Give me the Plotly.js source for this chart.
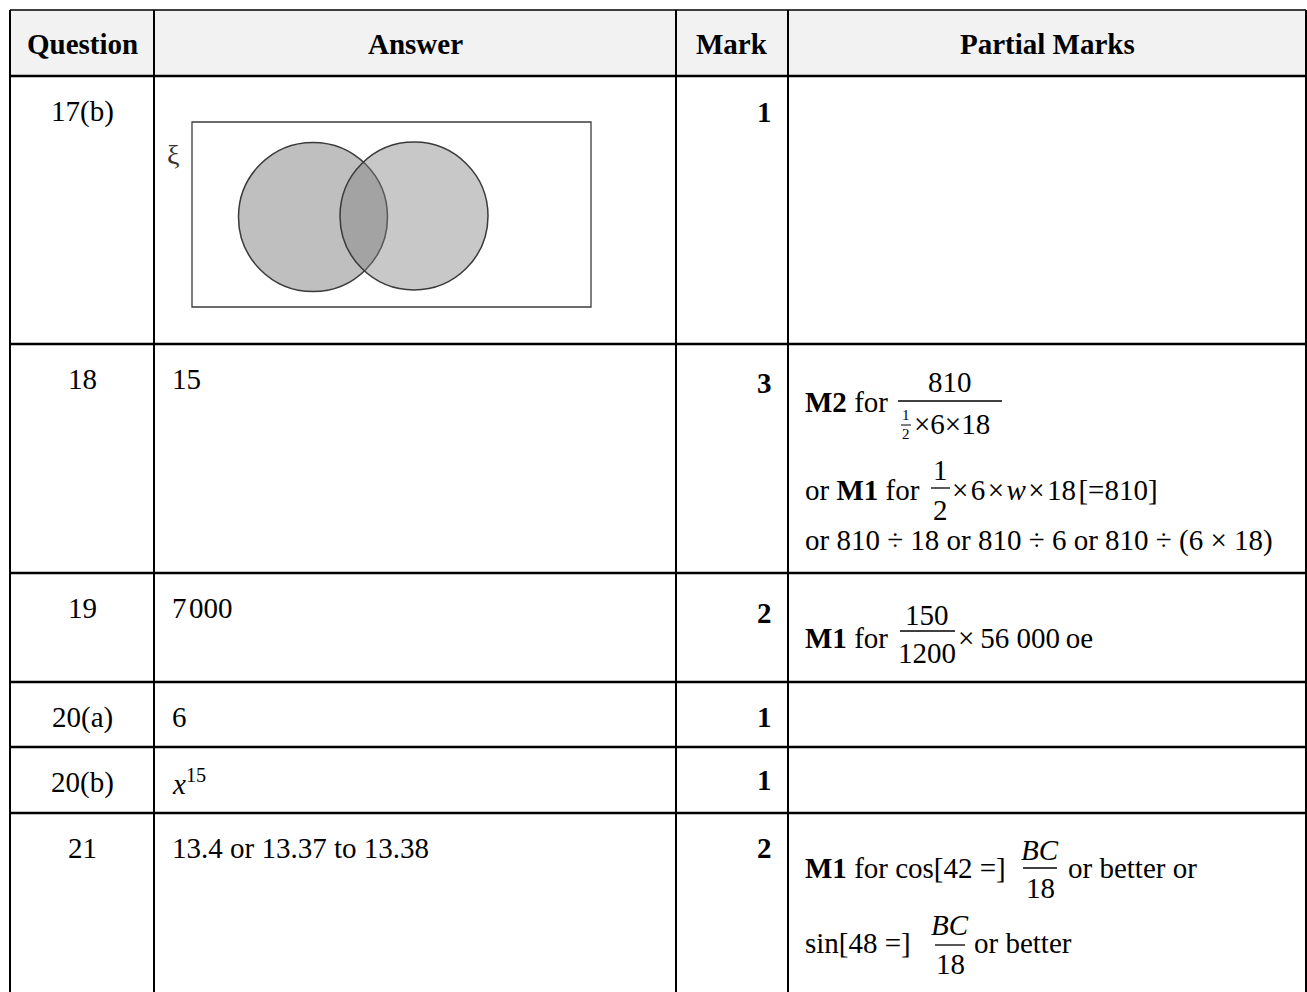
<!DOCTYPE html>
<html>
<head>
<meta charset="utf-8">
<script src="https://cdn.plot.ly/plotly-3.0.1.min.js"></script>
<style>html, body { margin: 0; padding: 0; background: #fff; }</style>
</head>
<body>
<div id="markTable" style="width:1307px;height:992px"></div>
<script>
// Mark scheme table, data
var headers = ['Question', 'Answer', 'Mark', 'Partial Marks'];
var questions = ['17(b)', '18', '19', '20(a)', '20(b)', '21'];
var answers = ['', '15', '7\u200a000', '6', '<i>x</i><sup>15</sup>', '13.4 or 13.37 to 13.38'];
var marks = [1, 3, 2, 1, 1, 2];

// partial marks text, piece by piece (fractions split into numerator / denominator)
var partial18 = ['<b>M2</b> for', '810', '1', '2', '\u00d76\u00d718',
  'or <b>M1</b> for', '1', '2', '\u00d7\u200a6\u200a\u00d7\u200a<i>w</i>\u200a\u00d7\u200a18\u200a[=810]',
  'or 810 \u00f7 18 or 810 \u00f7 6 or 810 \u00f7 (6 \u00d7 18)'];
var partial19 = ['<b>M1</b> for', '150', '1200', '\u00d7\u200956 000\u2009oe'];
var partial21 = ['<b>M1</b> for cos[42 =]', '<i>BC</i>', '18', 'or better or',
  'sin[48 =]', '<i>BC</i>', '18', 'or better'];

// Venn diagram sets (universal set ξ, two overlapping sets)
var vennSets = ['A', 'B'];
var vennFill = ['rgba(128,128,128,0.5)', 'rgba(128,128,128,0.43)'];

// ---- layout (pixels) ----
var colEdges = [10, 154, 676, 788, 1306];
var rowEdges = [10, 76, 344, 573, 682, 747, 813, 1000];
var markDy = [36, 39, 40, 35, 33, 35];
var serif = 'Liberation Serif';
var fs = 29;

// [x, y, xanchor, size]
var pos18 = [[803, 402, 'left'], [950, 382, 'center'], [906, 415, 'center', 15], [906, 434, 'center', 15],
  [912, 424, 'left'], [803, 490, 'left'], [940, 470, 'center'], [940, 510, 'center'],
  [950, 490, 'left'], [803, 540, 'left']];
var bars18 = [[898, 1002, 401], [901, 911, 425], [931, 950, 488]];
var pos19 = [[803, 638, 'left'], [927, 615, 'center'], [927, 653, 'center'], [956, 638, 'left']];
var bars19 = [[900, 955, 631]];
var pos21 = [[803, 868, 'left'], [1040, 850, 'center'], [1040, 888, 'center'], [1066, 868, 'left'],
  [803, 943, 'left'], [950, 925, 'center'], [950, 964, 'center'], [972, 943, 'left']];
var bars21 = [[1023, 1057, 868], [935, 965, 945]];

var vennBox = [192, 122, 591, 307];
var vennCircles = [[313, 217, 74.5], [414, 216, 74]];

var shapes = [];
var annotations = [];

function txt(text, x, y, anchor, size, color) {
  annotations.push({
    text: text, x: x, y: y, xref: 'x', yref: 'y',
    xanchor: anchor || 'left', yanchor: 'middle', showarrow: false,
    font: {family: serif, size: size || fs, color: color || '#000'}
  });
}
function hline(x0, x1, y, w) {
  shapes.push({type: 'line', xref: 'x', yref: 'y', x0: x0, x1: x1, y0: y, y1: y,
    line: {color: '#000', width: w}});
}
function vline(x, y0, y1, w) {
  shapes.push({type: 'line', xref: 'x', yref: 'y', x0: x, x1: x, y0: y0, y1: y1,
    line: {color: '#000', width: w}});
}

// header background
shapes.push({type: 'rect', xref: 'x', yref: 'y', x0: colEdges[0], x1: colEdges[4],
  y0: rowEdges[0], y1: rowEdges[1], fillcolor: '#f2f2f2', line: {width: 0}, layer: 'below'});

// grid lines
hline(colEdges[0], colEdges[4], rowEdges[0], 1.5);
for (var r = 1; r < rowEdges.length - 1; r++) hline(colEdges[0], colEdges[4], rowEdges[r], 2.5);
colEdges.forEach(function (cx) { vline(cx, rowEdges[0], rowEdges[rowEdges.length - 1], 2); });

// headers
headers.forEach(function (h, i) {
  txt('<b>' + h + '</b>', (colEdges[i] + colEdges[i + 1]) / 2, (rowEdges[0] + rowEdges[1]) / 2 + 1, 'center');
});

// body rows
questions.forEach(function (q, i) {
  var top = rowEdges[i + 1];
  txt(q, (colEdges[0] + colEdges[1]) / 2, top + 35, 'center');
  if (answers[i]) txt(answers[i], colEdges[1] + 16, top + 35, 'left');
  txt('<b>' + marks[i] + '</b>', colEdges[3] - 14, top + markDy[i], 'right');
});

// partial marks
function place(pieces, pos, bars) {
  pieces.forEach(function (p, i) {
    txt(p, pos[i][0], pos[i][1], pos[i][2], pos[i][3]);
  });
  bars.forEach(function (b) { hline(b[0], b[1], b[2], b[1] - b[0] < 15 ? 1 : 1.3); });
}
place(partial18, pos18, bars18);
place(partial19, pos19, bars19);
place(partial21, pos21, bars21);

// Venn diagram
shapes.push({type: 'rect', xref: 'x', yref: 'y', x0: vennBox[0], y0: vennBox[1], x1: vennBox[2], y1: vennBox[3],
  line: {color: '#3c3c3c', width: 1.3}, fillcolor: 'rgba(0,0,0,0)'});
vennSets.forEach(function (s, i) {
  var c = vennCircles[i];
  shapes.push({type: 'circle', xref: 'x', yref: 'y', x0: c[0] - c[2], x1: c[0] + c[2],
    y0: c[1] - c[2], y1: c[1] + c[2], fillcolor: vennFill[i], line: {color: '#3a3a3a', width: 1.5}});
});
txt('\u03be', 173, 154, 'center', 28, '#333');

var layout = {
  width: 1307,
  height: 992,
  margin: {l: 0, r: 0, t: 0, b: 0},
  paper_bgcolor: '#fff',
  plot_bgcolor: '#fff',
  showlegend: false,
  xaxis: {range: [0, 1307], visible: false, fixedrange: true},
  yaxis: {range: [992, 0], visible: false, fixedrange: true},
  shapes: shapes,
  annotations: annotations
};

Plotly.newPlot('markTable', [], layout, {staticPlot: true});
</script>
</body>
</html>
